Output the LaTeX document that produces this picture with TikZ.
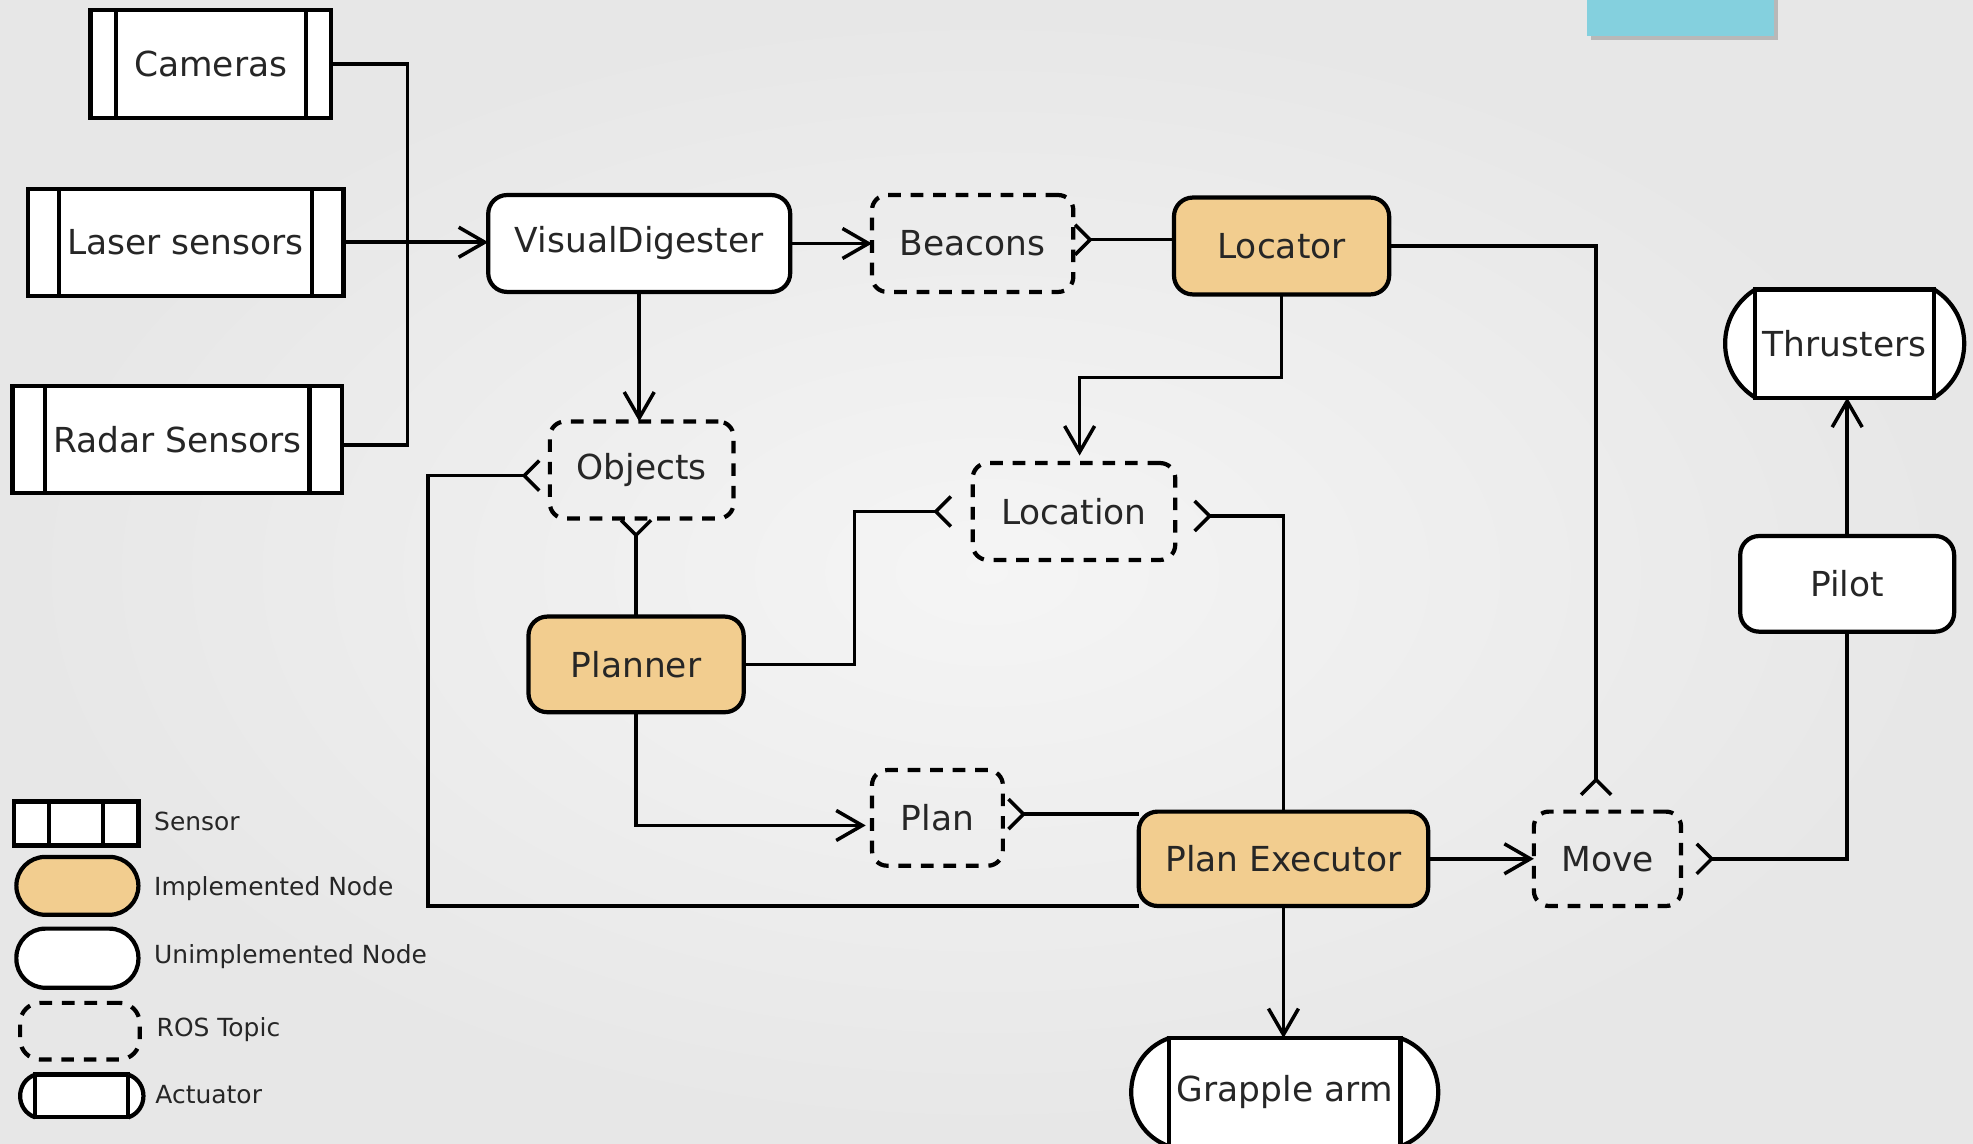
\documentclass[tikz,border=0pt]{standalone}
\usepackage{fontspec}
\setmainfont{DejaVu Sans}
\usetikzlibrary{arrows.meta,calc}
\definecolor{implc}{HTML}{F2CD8F}
\definecolor{tealbox}{HTML}{84D0DE}
\definecolor{txt}{HTML}{262626}
\newcommand\pu{0.012583cm}
\newcommand\actcaps[3]{%
  \fill[white] (#1.north west) .. controls ($(#1.north west)+(-#2,#3)$) and ($(#1.south west)+(-#2,-#3)$) .. (#1.south west) -- cycle;
  \draw[line width=1.2pt] (#1.north west) .. controls ($(#1.north west)+(-#2,#3)$) and ($(#1.south west)+(-#2,-#3)$) .. (#1.south west);
  \fill[white] (#1.north east) .. controls ($(#1.north east)+(#2,#3)$) and ($(#1.south east)+(#2,-#3)$) .. (#1.south east) -- cycle;
  \draw[line width=1.2pt] (#1.north east) .. controls ($(#1.north east)+(#2,#3)$) and ($(#1.south east)+(#2,-#3)$) .. (#1.south east);
  \draw[line width=1.2pt] (#1.north west) -- (#1.south west) (#1.north east) -- (#1.south east);}
\begin{document}
\begin{tikzpicture}[x=0.012583cm, y=-0.012583cm,
  nd/.style={draw=black, line width=1.2pt, text=txt, inner sep=0pt, outer sep=0pt, font=\fontsize{9.8}{12}\selectfont, align=center},
  sz/.style 2 args={minimum width=#1*\pu, minimum height=#2*\pu},
  impl/.style={nd, fill=implc, rounded corners=15*\pu},
  unimpl/.style={nd, fill=white, rounded corners=15*\pu},
  topic/.style={nd, dash pattern=on 3.6pt off 2.8pt, rounded corners=12*\pu},
  sensor/.style={nd, fill=white, path picture={
     \draw[line width=1.2pt] ([xshift=#1*\pu]path picture bounding box.north west) -- ([xshift=#1*\pu]path picture bounding box.south west);
     \draw[line width=1.2pt] ([xshift=-#1*\pu]path picture bounding box.north east) -- ([xshift=-#1*\pu]path picture bounding box.south east);}},
  actuator/.style={nd, fill=white},
  conn/.style={line width=1pt, draw=black},
  arr/.style={conn, -{Straight Barb[length=0.26cm, width=0.3cm]}},
  sub/.style={conn, -{Straight Barb[reversed, length=0.15cm, width=0.3cm]}},
  leg/.style={anchor=west, text=txt, inner sep=0pt, font=\fontsize{7.1}{8}\selectfont}]

\useasboundingbox (0,0) rectangle (1568,909);
\shade[inner color=white!96!black, outer color=white!90.5!black] (0,0) rectangle (1568,909);
\fill[black!28] (1264,-5) rectangle (1413,32);
\fill[tealbox] (1261,-5) rectangle (1410,29);

% nodes
\node[sensor=20, sz={191}{86}] (cam) at (167.5,51) {Cameras};
\node[sensor=25, sz={251}{85}] (laser) at (147.5,192.5) {Laser sensors};
\node[sensor=26, sz={262}{85}] (radar) at (141,349.5) {Radar Sensors};
\node[unimpl, sz={240}{77}] (vd) at (508,193.5) {VisualDigester};
\node[topic, sz={160}{77}] (beacons) at (773,193.5) {Beacons};
\node[impl, sz={171}{77}] (locator) at (1018.5,195.5) {Locator};
\node[topic, sz={146}{77}] (objects) at (510,373.5) {Objects};
\node[topic, sz={161}{77}] (location) at (853.5,406.5) {Location};
\node[impl, sz={171}{76}] (planner) at (505.5,528) {Planner};
\node[topic, sz={104}{76}] (plan) at (745,650) {Plan};
\node[impl, sz={230}{75}] (pe) at (1020,682.5) {Plan Executor};
\node[topic, sz={117}{75}] (move) at (1277.5,682.5) {Move};
\node[unimpl, sz={170}{76}] (pilot) at (1468,464) {Pilot};
\node[actuator, sz={142}{86}] (thr) at (1466,273) {Thrusters};
\node[actuator, sz={184}{86}] (arm) at (1021,868) {Grapple arm};
\actcaps{thr}{32}{19.7}
\actcaps{arm}{40}{14.7}

% connectors
\coordinate (bus) at (324,193);
\draw[conn] (cam.east) -| (bus);
\draw[conn] ([yshift=-4*\pu]radar.east) -| (bus);
\draw[arr] (laser.east) -- (laser.east -| vd.west);
\draw[arr] (vd.east) -- (vd.east -| beacons.west);
\draw[sub] ([yshift=5*\pu]locator.west) -- ([yshift=5*\pu]locator.west -| beacons.east);
\draw[arr] (vd.south) -- (vd.south |- objects.north);
\draw[arr] (locator.south) -- ++(0,66) -| ([xshift=4.5*\pu, yshift=6*\pu]location.north);
\draw[sub] (locator.east) -| ([xshift=-9*\pu, yshift=12*\pu]move.north);
\draw[sub] (pe.north) |- ([xshift=14*\pu, yshift=-3.5*\pu]location.east);
\draw[sub] (planner.east) -- ++(88,0) |- ([xshift=-16*\pu]location.west);
\draw[sub] (pe.south west) -- ++(-565,0) |- ([xshift=-7*\pu, yshift=-4.5*\pu]objects.west);
\draw[sub] (planner.north) -- (planner.north |- objects.south);
\draw[arr] (planner.south) |- ([xshift=-5*\pu, yshift=-6*\pu]plan.west);
\draw[sub] ([yshift=-2*\pu]pe.north west) -- ([xshift=3*\pu, yshift=3*\pu]plan.east);
\draw[arr] (pe.east) -- (pe.east -| move.west);
\draw[sub] (pilot.south) |- ([xshift=11*\pu]move.east);
\draw[arr] (pilot.north) -- (pilot.north |- thr.south);
\draw[arr] (pe.south) -- (pe.south |- arm.north);

% legend
\node[sensor=28, sz={99}{35}] (lsens) at (60.5,654.5) {};
\node[impl, rounded corners=23*\pu, sz={97}{46}] (limpl) at (61.5,704) {};
\node[unimpl, rounded corners=23*\pu, sz={97}{47}] (lunimpl) at (61.5,761.5) {};
\node[topic, rounded corners=16*\pu, sz={95}{45}] (ltopic) at (63.5,819.5) {};
\node[actuator, sz={74}{34}] (lact) at (65,871) {};
\actcaps{lact}{16}{5.7}
\node[leg] (tsens) at (122,653) {Sensor};
\node[leg] (timpl) at (122,706) {Implemented Node};
\node[leg] (tunimpl) at (122,760) {Unimplemented Node};
\node[leg] (ttopic) at (124,818) {ROS Topic};
\node[leg] (tact) at (123,870) {Actuator};
\end{tikzpicture}
\end{document}
